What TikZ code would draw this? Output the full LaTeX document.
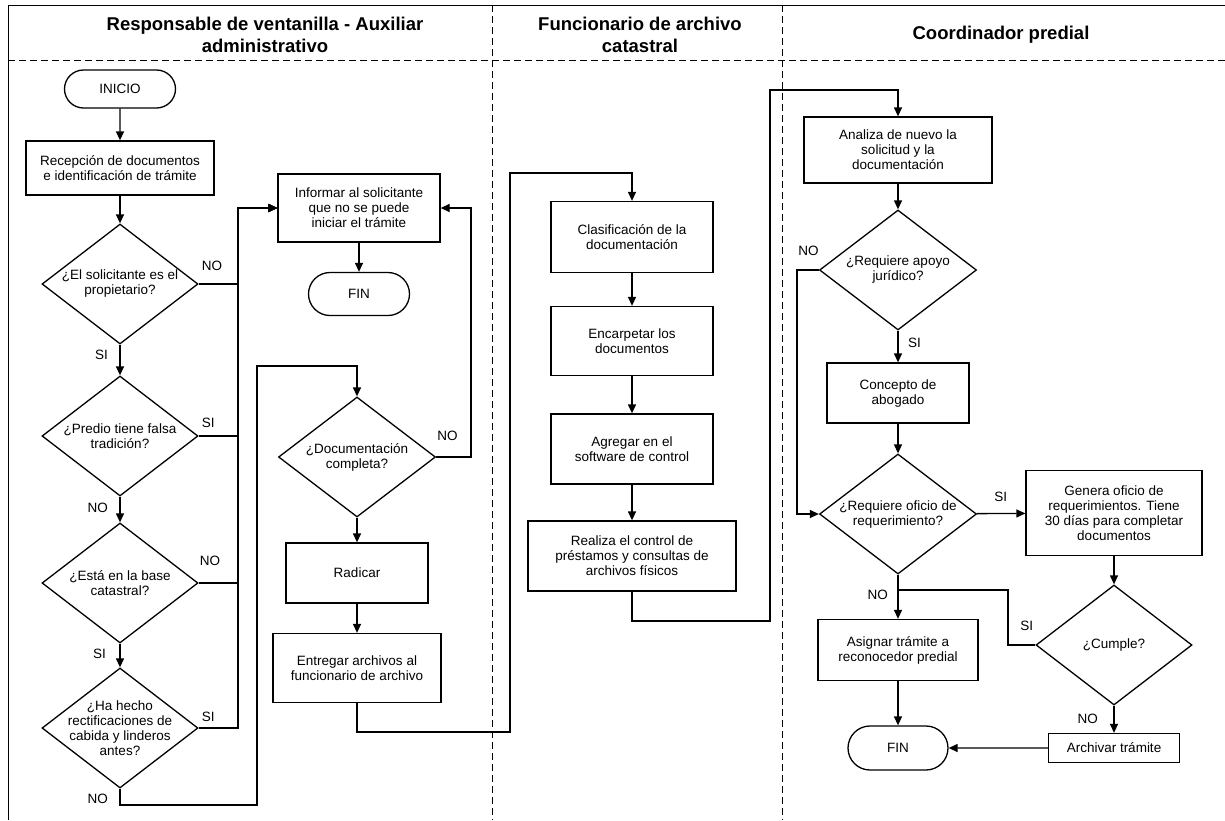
\documentclass[tikz,border=0pt]{standalone}
\usepackage{fontspec}
\setmainfont{Liberation Sans}
\usetikzlibrary{arrows.meta, positioning, shapes.geometric, shapes.misc}

\tikzset{
    process/.style={draw, rectangle, line width=1.3pt, align=center, inner sep=2pt},
    decision/.style={draw, diamond, aspect=1.3, line width=1.3pt, align=center,
        inner sep=-12pt, minimum width=156pt, minimum height=120pt},
    terminal/.style={draw, rounded rectangle, line width=1.3pt, inner sep=2pt},
    lbl/.style={inner sep=0pt},
    flow/.style={line width=1.3pt, -{Triangle[length=9pt,width=8pt]}},
    plainline/.style={line width=1.3pt},
    lane/.style={line width=0.8pt, dash pattern=on 7pt off 4pt},
    title/.style={font=\fontsize{18.5}{21.5}\selectfont\bfseries, align=center}
}

\begin{document}
\begin{tikzpicture}[x=1pt, y=-1pt, font=\fontsize{13.5}{15}\selectfont]

    \useasboundingbox (0,0) rectangle (1225,820);

    % frame and lanes
    \draw[line width=1pt] (8,820) -- (8,5) -- (1225,5);
    \draw[lane] (8,60) -- (1225,60);
    \draw[lane] (492,5) -- (492,820);
    \draw[lane] (782,5) -- (782,820);

    \node[title] (t1) at (265,35) {Responsable de ventanilla - Auxiliar\\administrativo};
    \node[title] (t2) at (640,35) {Funcionario de archivo\\catastral};
    \node[title] (t3) at (1001,35) {Coordinador predial};

    % ventanilla
    \node[terminal, minimum width=115pt, minimum height=38pt] (inicio) at (120,89) {INICIO};
    \node[process, minimum width=188pt, minimum height=54pt] (recep) at (120,168)
        {Recepción de documentos\\e identificación de trámite};
    \node[decision] (d1) at (120,284) {¿El solicitante es el\\propietario?};
    \node[decision] (d2) at (120,436) {¿Predio tiene falsa\\tradición?};
    \node[decision] (d3) at (120,583) {¿Está en la base\\catastral?};
    \node[decision] (d4) at (120,728) {¿Ha hecho\\rectificaciones de\\cabida y linderos\\antes?};

    \node[process, minimum width=162pt, minimum height=68pt] (inform) at (359,208)
        {Informar al solicitante\\que no se puede\\iniciar el trámite};
    \node[terminal, minimum width=105pt, minimum height=43pt] (fin1) at (359,294) {FIN};

    \node[decision, minimum width=157pt] (d5) at (357,457) {¿Documentación\\completa?};
    \node[process, minimum width=142pt, minimum height=60pt] (radicar) at (357,573) {Radicar};
    \node[process, minimum width=168pt, minimum height=69pt] (entregar) at (357,668)
        {Entregar archivos al\\funcionario de archivo};

    % archivo
    \node[process, minimum width=162pt, minimum height=71pt] (clasif) at (632,237)
        {Clasificación de la\\documentación};
    \node[process, minimum width=162pt, minimum height=69pt] (encarp) at (632,341)
        {Encarpetar los\\documentos};
    \node[process, minimum width=162pt, minimum height=70pt] (agreg) at (632,449)
        {Agregar en el\\software de control};
    \node[process, minimum width=208pt, minimum height=70pt] (realiza) at (632,556)
        {Realiza el control de\\préstamos y consultas de\\archivos físicos};

    % coordinador
    \node[process, minimum width=188pt, minimum height=66pt] (analiza) at (898,150)
        {Analiza de nuevo la\\solicitud y la\\documentación};
    \node[decision, minimum width=157pt] (rapoyo) at (898,270) {¿Requiere apoyo\\jurídico?};
    \node[process, minimum width=142pt, minimum height=60pt] (concepto) at (898,393)
        {Concepto de\\abogado};
    \node[decision, minimum width=157pt] (roficio) at (898,514) {¿Requiere oficio de\\requerimiento?};
    \node[process, minimum width=176pt, minimum height=85pt] (genera) at (1114,513)
        {Genera oficio de\\requerimientos. Tiene\\30 días para completar\\documentos};
    \node[decision] (cumple) at (1114,645) {¿Cumple?};
    \node[process, minimum width=160pt, minimum height=61pt] (asignar) at (898,650)
        {Asignar trámite a\\reconocedor predial};
    \node[terminal, minimum width=104pt, minimum height=44pt] (fin2) at (898,748) {FIN};
    \node[process, minimum width=131pt, minimum height=29pt] (archivar) at (1114,748)
        {Archivar trámite};

    % bends
    \coordinate (bus) at (238,208);
    \coordinate (noA) at (257,805);
    \coordinate (noB) at (257,366);
    \coordinate (noC) at (471,208);
    \coordinate (pA) at (510,732);
    \coordinate (pB) at (510,173);
    \coordinate (qA) at (770,621);
    \coordinate (qB) at (770,90);
    \coordinate (qC) at (797,514);
    \coordinate (qD) at (1008,590);

    \draw[flow] (inicio) -- (recep);
    \draw[flow] (recep) -- (d1);
    \draw[flow] (d1) -- (d2);
    \draw[flow] (d2) -- (d3);
    \draw[flow] (d3) -- (d4);
    \draw[flow] (d1.east) -| (bus) -- (inform.west);
    \draw[flow] (d2.east) -| (bus) -- (inform.west);
    \draw[flow] (d3.east) -| (bus) -- (inform.west);
    \draw[flow] (d4.east) -| (bus) -- (inform.west);
    \draw[flow] (inform) -- (fin1);
    \draw[flow] (d4.south) |- (noA) -- (noB) -| (d5.north);
    \draw[flow] (d5.east) -| (noC) -- (inform.east);
    \draw[flow] (d5) -- (radicar);
    \draw[flow] (radicar) -- (entregar);
    \draw[flow] (entregar.south) |- (pA) -- (pB) -| (clasif.north);
    \draw[flow] (clasif) -- (encarp);
    \draw[flow] (encarp) -- (agreg);
    \draw[flow] (agreg) -- (realiza);
    \draw[flow] (realiza.south) |- (qA) -- (qB) -| (analiza.north);
    \draw[flow] (analiza) -- (rapoyo);
    \draw[flow] (rapoyo) -- (concepto);
    \draw[flow] (rapoyo.west) -| (qC) -- (roficio.west);
    \draw[flow] (concepto) -- (roficio);
    \draw[flow] (roficio) -- (genera);
    \draw[flow] (roficio) -- (asignar);
    \draw[flow] (genera) -- (cumple);
    \draw[plainline] (cumple.west) -| (qD) -- (roficio.south |- qD);
    \draw[flow] (cumple) -- (archivar);
    \draw[flow] (asignar) -- (fin2);
    \draw[flow] (archivar) -- (fin2);

    % answers
    \node[lbl, above right=13pt and 3pt of d1.east] (a1) {NO};
    \node[lbl, below left=5pt and 12pt of d1.south] (a2) {SI};
    \node[lbl, above right=8pt and 3pt of d2.east] (a3) {SI};
    \node[lbl, below left=6pt and 12pt of d2.south] (a4) {NO};
    \node[lbl, above right=17pt and 1pt of d3.east] (a5) {NO};
    \node[lbl, below left=5pt and 14pt of d3.south] (a6) {SI};
    \node[lbl, above right=6pt and 3pt of d4.east] (a7) {SI};
    \node[lbl, below left=5pt and 12pt of d4.south] (a8) {NO};
    \node[lbl, above right=16pt and 1pt of d5.east] (a9) {NO};
    \node[lbl, above left=14pt and 0pt of rapoyo.west] (a10) {NO};
    \node[lbl, below right=7pt and 10pt of rapoyo.south] (a11) {SI};
    \node[lbl, above right=12pt and 17pt of roficio.east] (a12) {SI};
    \node[lbl, below left=15pt and 10pt of roficio.south] (a13) {NO};
    \node[lbl, above left=14pt and 2pt of cumple.west] (a14) {SI};
    \node[lbl, below left=8pt and 16pt of cumple.south] (a15) {NO};

\end{tikzpicture}
\end{document}
